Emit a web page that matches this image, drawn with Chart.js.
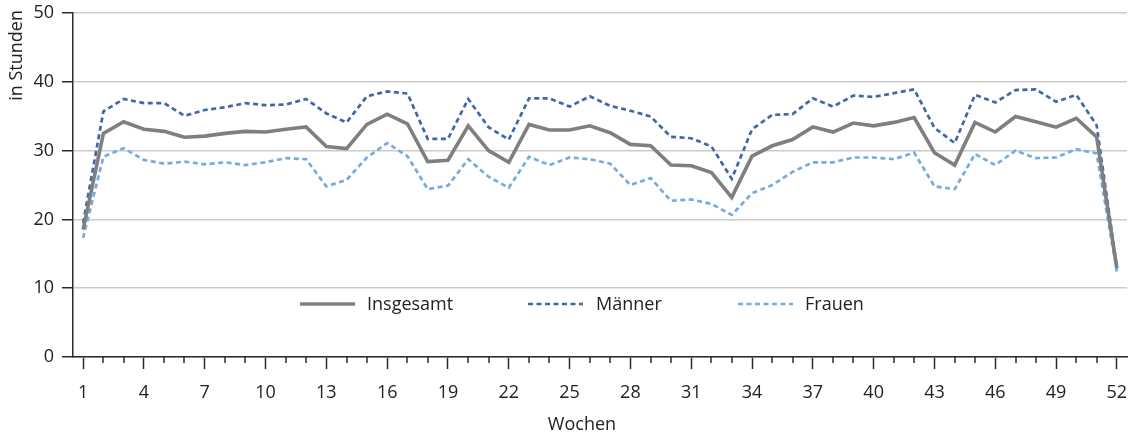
<!DOCTYPE html>
<html>
<head>
<meta charset="utf-8">
<script src="https://cdn.jsdelivr.net/npm/chart.js@4.4.1/dist/chart.umd.min.js"></script>
<style>
html,body{margin:0;padding:0;background:#fff;}
#wrap{width:1134px;height:437px;position:relative;}
</style>
</head>
<body>
<div id="wrap"><canvas id="c" width="1134" height="437"></canvas></div>
<script>
// ---- data ----
const weeks = ['1','2','3','4','5','6','7','8','9','10','11','12','13','14','15','16','17','18','19','20','21','22','23','24','25','26','27','28','29','30','31','32','33','34','35','36','37','38','39','40','41','42','43','44','45','46','47','48','49','50','51','52'];
const insgesamt = [18.5,32.5,34.2,33.1,32.8,31.95,32.1,32.5,32.8,32.7,33.1,33.45,30.6,30.3,33.8,35.3,33.9,28.4,28.6,33.6,30.0,28.3,33.8,33.0,33.0,33.6,32.6,30.9,30.7,27.9,27.8,26.8,23.2,29.2,30.7,31.6,33.45,32.7,34.0,33.6,34.1,34.8,29.7,27.9,34.1,32.7,34.95,34.2,33.4,34.7,32.0,12.9];
const maenner = [19.5,35.7,37.5,36.9,36.9,35.05,35.9,36.3,36.9,36.6,36.7,37.5,35.4,34.1,37.9,38.6,38.3,31.7,31.7,37.5,33.4,31.6,37.6,37.6,36.4,37.9,36.5,35.8,34.95,32.0,31.8,30.6,25.9,33.1,35.2,35.3,37.6,36.4,38.0,37.8,38.35,38.9,33.3,31.1,38.1,37.0,38.8,38.9,37.1,38.1,33.7,13.1];
const frauen = [17.3,29.1,30.35,28.65,28.1,28.4,28.0,28.3,27.9,28.3,28.9,28.75,24.8,25.75,29.0,31.1,29.2,24.4,24.9,28.75,26.2,24.6,29.1,27.9,29.0,28.75,28.1,25.0,26.0,22.7,22.9,22.25,20.65,23.8,25.0,26.9,28.3,28.3,29.0,29.0,28.75,29.7,24.8,24.4,29.5,27.9,30.0,28.9,29.0,30.2,29.6,12.4];
const seriesLabels = ['Insgesamt','Männer','Frauen'];
const yTicks = [0,10,20,30,40,50];
const xTitle = 'Wochen';
const yTitle = 'in Stunden';

const FONT = '"Open Sans"';
const FSIZE = 18;
const TXT = '#222222';
const AXIS = '#2a2a2a';

const extras = {
  id: 'extras',
  afterDraw(chart) {
    const ctx = chart.ctx;
    const xs = chart.scales.x;
    const ys = chart.scales.y;
    ctx.save();
    // minor tick marks
    ctx.strokeStyle = AXIS;
    ctx.lineWidth = 1.5;
    weeks.forEach((w, i) => {
      if (i % 3 !== 0) {
        const px = Math.round(xs.getPixelForValue(i));
        ctx.beginPath();
        ctx.moveTo(px, xs.top);
        ctx.lineTo(px, xs.top + 6);
        ctx.stroke();
      }
    });
    ctx.fillStyle = TXT;
    ctx.font = FSIZE + 'px ' + FONT;
    // x tick labels
    ctx.textAlign = 'center';
    ctx.textBaseline = 'middle';
    weeks.forEach((w, i) => {
      if (i % 3 === 0) ctx.fillText(w, xs.getPixelForValue(i), 393);
    });
    // y tick labels
    ctx.textAlign = 'right';
    yTicks.forEach(v => ctx.fillText(String(v), 54, ys.getPixelForValue(v)));
    // axis titles
    ctx.textAlign = 'center';
    ctx.fillText(xTitle, 582, 425);
    ctx.save();
    ctx.translate(17, 10);
    ctx.rotate(-Math.PI / 2);
    ctx.textAlign = 'right';
    ctx.fillText(yTitle, 0, 0);
    ctx.restore();
    // legend inside chart area
    const pos = [[300, 367], [528, 596], [738, 805]];
    const ly = 304;
    chart.data.datasets.forEach((ds, i) => {
      const [lx, tx] = pos[i];
      ctx.save();
      ctx.strokeStyle = ds.borderColor;
      ctx.lineWidth = ds.borderWidth;
      ctx.setLineDash(ds.borderDash || []);
      ctx.lineCap = 'butt';
      ctx.beginPath();
      ctx.moveTo(lx, ly);
      ctx.lineTo(lx + 55, ly);
      ctx.stroke();
      ctx.restore();
      ctx.fillStyle = TXT;
      ctx.textAlign = 'left';
      ctx.textBaseline = 'middle';
      ctx.fillText(ds.label, tx, ly + 1);
    });
    ctx.restore();
  }
};

new Chart(document.getElementById('c'), {
  type: 'line',
  data: {
    labels: weeks,
    datasets: [
      { label: seriesLabels[0], data: insgesamt, borderColor: '#7f7f7f', borderWidth: 3.6, pointRadius: 0, tension: 0, fill: false },
      { label: seriesLabels[1], data: maenner, borderColor: '#4068a6', borderWidth: 2.7, borderDash: [5, 3.5], pointRadius: 0, tension: 0, fill: false },
      { label: seriesLabels[2], data: frauen, borderColor: '#76abe0', borderWidth: 2.7, borderDash: [5, 3.5], pointRadius: 0, tension: 0, fill: false }
    ]
  },
  options: {
    responsive: false,
    animation: false,
    devicePixelRatio: 1,
    layout: { padding: { top: 13, right: 7, left: 0, bottom: 0 } },
    plugins: { legend: { display: false }, tooltip: { enabled: false }, title: { display: false } },
    scales: {
      x: {
        type: 'category',
        offset: true,
        grid: {
          display: true, drawOnChartArea: false, offset: false,
          tickLength: 12, tickWidth: 1.5,
          tickColor: (c) => (c.index % 3 === 0 ? AXIS : 'rgba(0,0,0,0)')
        },
        border: { display: true, color: AXIS, width: 1.5 },
        ticks: { display: false, autoSkip: false, maxRotation: 0, minRotation: 0 },
        afterFit: (s) => { s.height = 80; }
      },
      y: {
        min: 0, max: 50,
        afterBuildTicks: (s) => { s.ticks = yTicks.map(v => ({ value: v })); },
        grid: { color: '#cbcbcb', lineWidth: 1.5, tickLength: 11, tickColor: AXIS, tickWidth: 1.5 },
        border: { display: true, color: AXIS, width: 1.5 },
        ticks: { display: false },
        afterFit: (s) => { s.width = 73; }
      }
    }
  },
  plugins: [extras]
});
</script>
</body>
</html>
